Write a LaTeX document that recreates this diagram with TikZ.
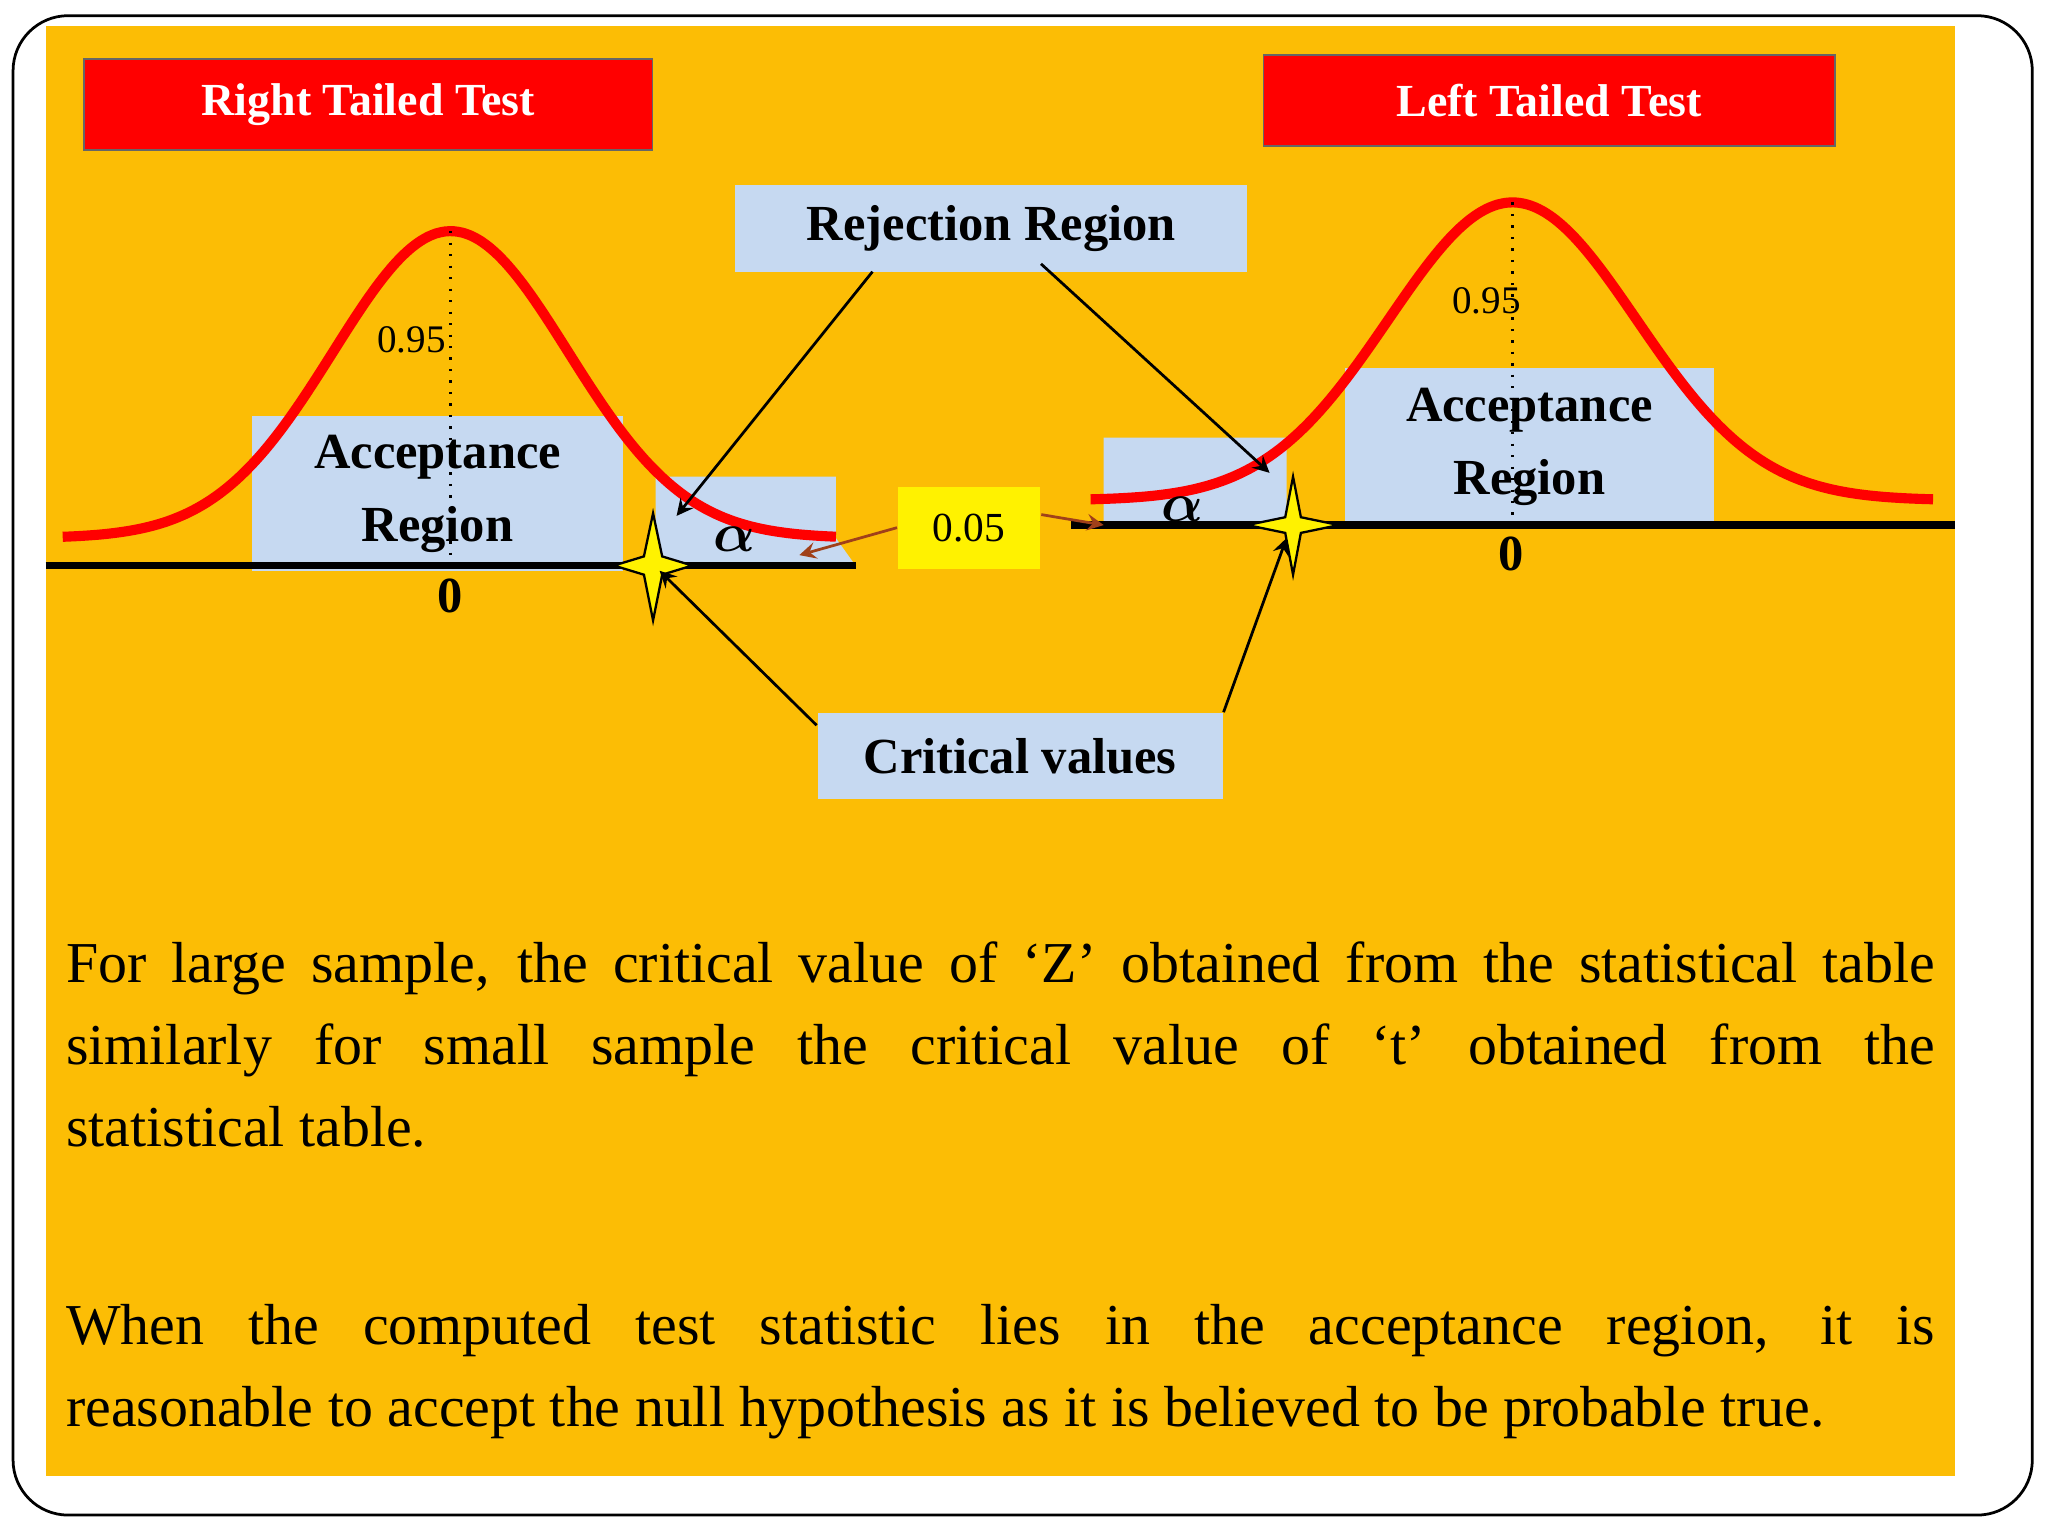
\documentclass[tikz,border=0pt]{standalone}
\usepackage{amsmath,bm}
\usepackage{fontspec}
\setmainfont{Liberation Serif}
\definecolor{bg}{HTML}{FCBD05}
\definecolor{lblue}{HTML}{C6D9F1}
\definecolor{brn}{HTML}{A0401A}
\begin{document}
\begin{tikzpicture}[x=0.01cm,y=-0.01cm,
  redbox/.style={draw=black!60,fill=red,text=white,font=\fontsize{10}{12}\selectfont\bfseries,inner sep=0pt},
  bluebox/.style={fill=lblue,font=\fontsize{11}{13}\selectfont\bfseries,inner sep=0pt,align=center},
  curve/.style={red,line width=2.2pt},
  arr/.style={->,>=stealth,line width=0.6pt},
  star4/.style={fill=yellow,draw=black,line width=0.5pt}]
\useasboundingbox (0,0) rectangle (1568,1176);
\draw[rounded corners=12pt,line width=0.6pt] (10,12) rectangle (1556,1160);
\fill[bg] (35,20) rectangle (1497,1130);
% titles
\node[redbox,minimum width=4.35cm,minimum height=0.7cm] (rt) at (282,80) {Right Tailed Test};
\node[redbox,minimum width=4.37cm,minimum height=0.7cm] (lt) at (1186,77) {Left Tailed Test};
% left graph
\fill[lblue] (502,365) -- (502,433) -- (655,433) -- (640,412) -- (640,365) -- cycle;
\node[bluebox,minimum width=2.84cm,minimum height=1.19cm] (acc1) at (335,378) {Acceptance\\[3pt]Region};
\draw[curve] plot[domain=48:640,samples=90,smooth] (\x,{412-235*exp(-((\x-345)/90)^2/2)});
\draw[dotted,line width=0.5pt] (345,177) -- (345,433);
\draw[line width=1.6pt] (35,433) -- (655,433);
\node[font=\fontsize{8.5}{10}\selectfont] (p1) at (315,260) {0.95};
\node[font=\fontsize{11}{13}\selectfont\bfseries] (z1) at (345,456) {0};
\node[font=\fontsize{12}{13}\selectfont] (a1) at (562,413) {$\bm{\alpha}$};
\coordinate (s1) at (500,433);
\draw[star4] (500,393) -- (507,426) -- (530,433) -- (507,440) -- (500,475) -- (493,440) -- (470,433) -- (493,426) -- cycle;
% right graph
\fill[lblue] (845,383) -- (845,335) -- (985,335) -- (985,402) -- (845,402) -- cycle;
\node[bluebox,minimum width=2.83cm,minimum height=1.2cm] (acc2) at (1171,342) {Acceptance\\[3pt]Region};
\draw[curve] plot[domain=835:1480,samples=90,smooth] (\x,{383-228*exp(-((\x-1158)/95)^2/2)});
\draw[dotted,line width=0.5pt] (1158,155) -- (1158,402);
\draw[line width=1.6pt] (820,402) -- (1497,402);
\node[font=\fontsize{8.5}{10}\selectfont] (p2) at (1138,230) {0.95};
\node[font=\fontsize{11}{13}\selectfont\bfseries] (z2) at (1157,424) {0};
\node[font=\fontsize{12}{13}\selectfont] (a2) at (905,390) {$\bm{\alpha}$};
\coordinate (s2) at (990,402);
\draw[star4] (990,365) -- (996,396) -- (1025,402) -- (996,408) -- (990,440) -- (984,408) -- (955,402) -- (984,396) -- cycle;
% 0.05
\node[fill=yellow,minimum width=1.09cm,minimum height=0.63cm,inner sep=0pt,font=\fontsize{9}{10}\selectfont] (v) at (742,404) {0.05};
\coordinate (t1) at (612,425);
\coordinate (t2) at (845,402);
\draw[->,>=stealth,brn,line width=0.6pt] (v.west) -- (t1);
\draw[->,>=stealth,brn,line width=0.6pt] ([yshift=0.1cm]v.east) -- (t2);
% rejection region
\node[bluebox,minimum width=3.92cm,minimum height=0.66cm] (rr) at (759,175) {Rejection Region};
\coordinate (r1) at (518,395);
\coordinate (r2) at (972,362);
\draw[arr] (668,208) -- (r1);
\draw[arr] (797,202) -- (r2);
% critical values
\node[bluebox,minimum width=3.1cm,minimum height=0.66cm] (cv) at (781,579) {Critical values};
\coordinate (c1) at (505,437);
\coordinate (c2) at (985,412);
\draw[arr] ([yshift=-0.1cm]cv.north west) -- (c1);
\draw[arr] (cv.north east) -- (c2);
% body
\node[anchor=north west,inner sep=0pt,text width=14.3cm,align=justify,font=\fontsize{12.6}{17.9}\selectfont] (b1) at (50,720)
{For large sample, the critical value of ‘Z’ obtained from the statistical table\linebreak similarly for small sample the critical value of ‘t’ obtained from the\linebreak statistical table.};
\node[anchor=north west,inner sep=0pt,text width=14.3cm,align=justify,font=\fontsize{12.6}{17.9}\selectfont] (b2) at (50,998)
{When the computed test statistic lies in the acceptance region, it is\linebreak reasonable to accept the null hypothesis as it is believed to be probable true.};
\end{tikzpicture}
\end{document}
